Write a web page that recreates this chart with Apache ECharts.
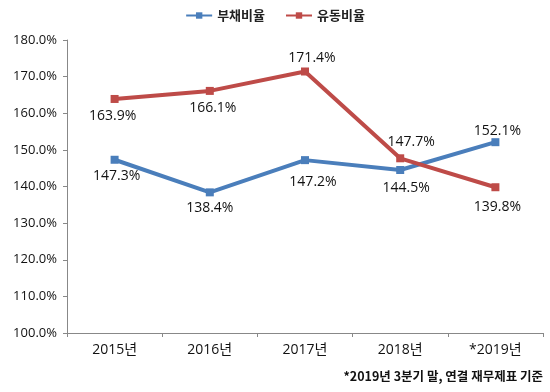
<!DOCTYPE html>
<html><head><meta charset="utf-8">
<script src="https://cdn.jsdelivr.net/npm/echarts@6/dist/echarts.min.js"></script>
<style>html,body{margin:0;padding:0;background:#fff}#c{width:550px;height:392px}</style>
</head><body><div id="c"></div>
<script>
const categories = ['2015년','2016년','2017년','2018년','*2019년'];
const debtRatio = [147.3, 138.4, 147.2, 144.5, 152.1];
const currentRatio = [163.9, 166.1, 171.4, 147.7, 139.8];
const seriesNames = ['부채비율','유동비율'];
const footnote = '*2019년 3분기 말, 연결 재무제표 기준';

const FONT = '"Open Sans", "Noto Sans CJK KR", sans-serif';
const chart = echarts.init(document.getElementById('c'));
// label placement (pixel offsets from the point, as in the reference)
const debtLabelShift = [[2,16],[0,16],[8,22],[6,18],[2,-11]];
const currentLabelShift = [[-2,17],[3,17],[7,-13],[11,-16],[2,20]];
function mk(vals, shift) {
  return vals.map((v,i)=>({value:v, label:{position:'inside', offset:shift[i]}}));
}
const lblStyle = {show:true, formatter: p => p.value.toFixed(1)+'%', fontSize:14, color:'#111', fontFamily:FONT};
chart.setOption({
  animation:false,
  textStyle:{fontFamily:FONT},
  legend:{top:4, left:'center', itemWidth:26, itemHeight:8, itemGap:20,
    textStyle:{fontSize:13, fontWeight:'bold', color:'#222', fontFamily:'"Noto Sans CJK KR", sans-serif'},
    data:seriesNames},
  graphic:[{type:'text', right:7, top:370, style:{text:footnote, fill:'#111', font:'bold 12.5px "Noto Sans CJK KR", sans-serif'}}],
  grid:{left:67, right:7, top:40, bottom:59},
  xAxis:{type:'category', data:categories, boundaryGap:true,
    axisLine:{lineStyle:{color:'#888'}}, axisTick:{show:true, lineStyle:{color:'#888'}, length:4},
    axisLabel:{fontSize:14, color:'#111', margin:10, fontFamily:FONT}},
  yAxis:{type:'value', min:100, max:180, interval:10,
    axisLine:{show:true, lineStyle:{color:'#888'}}, axisTick:{show:true, length:4, lineStyle:{color:'#888'}},
    splitLine:{show:false},
    axisLabel:{fontSize:13, color:'#111', margin:10, formatter: v=>v.toFixed(1)+'%', fontFamily:FONT}},
  series:[
    {name:seriesNames[0], type:'line', data:mk(debtRatio, debtLabelShift), symbol:'rect', symbolSize:8,
     lineStyle:{width:4, color:'#4A7EBB'}, itemStyle:{color:'#4A7EBB'}, label:lblStyle},
    {name:seriesNames[1], type:'line', data:mk(currentRatio, currentLabelShift), symbol:'rect', symbolSize:8,
     lineStyle:{width:4, color:'#BE4B48'}, itemStyle:{color:'#BE4B48'}, label:lblStyle}
  ]
});
</script></body></html>
